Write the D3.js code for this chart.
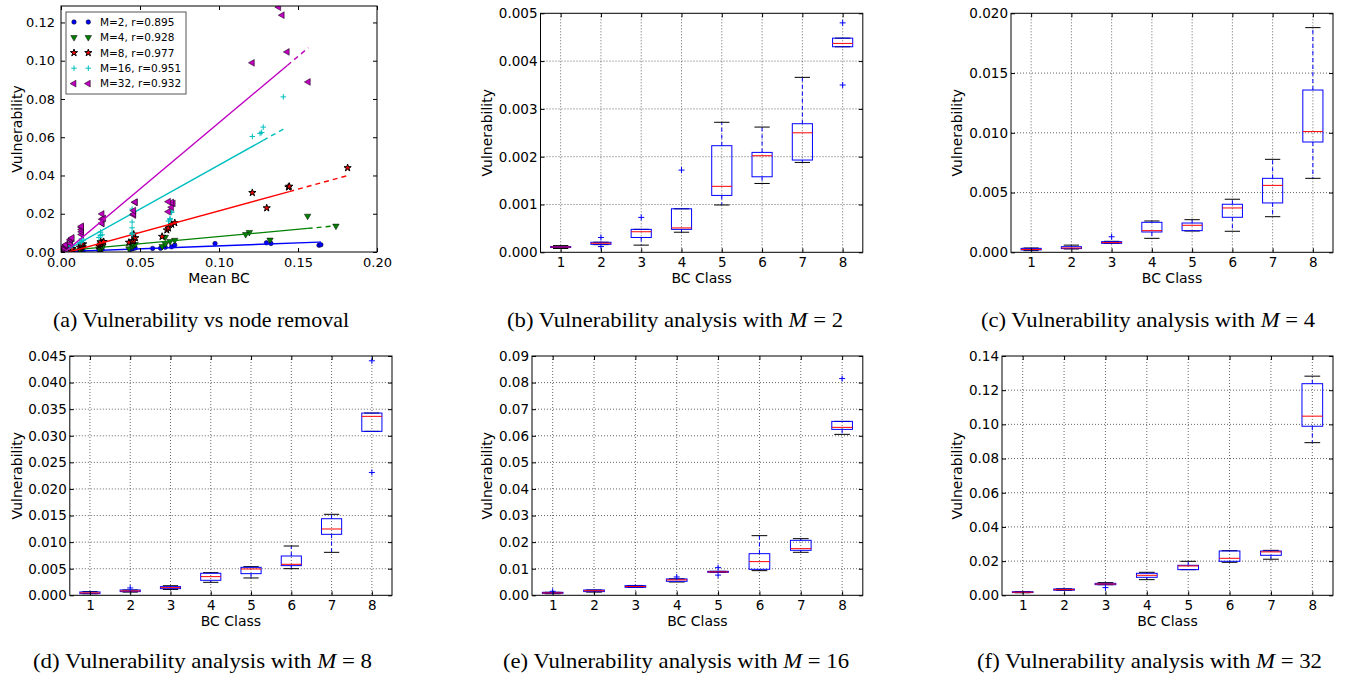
<!DOCTYPE html>
<html><head><meta charset="utf-8">
<script src="https://cdn.jsdelivr.net/npm/d3@7"></script>
<style>body{margin:0;background:#fff}svg{display:block}</style>
</head><body><svg id="c" width="1345" height="674"></svg>
<script>
// ---------- DATA ----------
const classes = [1, 2, 3, 4, 5, 6, 7, 8];
// box stats per class: [whiskerLow, q1, median, q3, whiskerHigh]
const statsM2 = [[0.00008,0.0001,0.00011,0.00012,0.00014],[0.00016,0.000167,0.00019,0.00021,0.00021],[0.00015,0.00031,0.00043,0.00048,0.00048],[0.00042,0.00048,0.00051,0.00091,0.00091],[0.00099,0.00119,0.00138,0.00223,0.00272],[0.00144,0.00158,0.00202,0.00209,0.00262],[0.00188,0.00193,0.0025,0.00269,0.00366],[0.0043,0.0043,0.00437,0.00448,0.00448]];
const outM2 = [[],[0.00031,0.00012],[0.00073],[0.00172],[],[],[],[0.0048,0.0035]];
const statsM4 = [[0.00014,0.0002,0.00024,0.00033,0.00036],[0.00028,0.00031,0.00036,0.00047,0.0006],[0.00075,0.00075,0.00081,0.00089,0.00092],[0.00117,0.0017,0.00181,0.00251,0.00262],[0.00178,0.00181,0.00226,0.00245,0.00273],[0.00176,0.00293,0.00371,0.00402,0.00444],[0.00298,0.00413,0.0056,0.00619,0.00778],[0.00619,0.00923,0.0101,0.01358,0.0188]];
const outM4 = [[],[],[0.0013],[],[],[],[],[]];
const statsM8 = [[0.0003,0.00031,0.00045,0.00063,0.0007],[0.0006,0.00069,0.00082,0.001,0.001],[0.0011,0.00125,0.00144,0.00163,0.0018],[0.00244,0.00282,0.00351,0.00414,0.00426],[0.00326,0.00407,0.00495,0.00526,0.00539],[0.00501,0.00558,0.00583,0.00739,0.00927],[0.00808,0.01147,0.01247,0.0144,0.01523],[0.03083,0.03083,0.03365,0.03427,0.03427]];
const outM8 = [[],[0.00138],[],[],[],[],[],[0.0441,0.0231]];
const statsM16 = [[0.0006,0.00075,0.0009,0.00113,0.00113],[0.0012,0.00138,0.0017,0.002,0.002],[0.003,0.003,0.0033,0.00363,0.0037],[0.005,0.00526,0.0058,0.00614,0.0062],[0.00865,0.00865,0.0088,0.00902,0.00902],[0.00927,0.00977,0.01266,0.01566,0.02243],[0.01617,0.01692,0.01754,0.02068,0.0213],[0.06053,0.0624,0.06316,0.06541,0.0654]];
const outM16 = [[0.0015],[],[],[0.0069],[0.0104,0.0076],[],[],[0.0815]];
const statsM32 = [[0.0015,0.0016,0.0018,0.0021,0.0022],[0.0029,0.003,0.0033,0.0037,0.0038],[0.0062,0.0062,0.0066,0.007,0.0074],[0.00916,0.01053,0.0117,0.01287,0.01345],[0.015,0.01501,0.01716,0.01755,0.01989],[0.0193,0.01989,0.02164,0.02593,0.0261],[0.0211,0.0234,0.0254,0.02593,0.0263],[0.0893,0.0989,0.1048,0.1238,0.1282]];
const outM32 = [[],[],[0.0045],[],[],[],[],[]];

// scatter (a): [mean BC, vulnerability]
const ptsM2 = [[0.001,0.00008],[0.001,0.0001],[0.002,0.00011],[0.001,0.00012],[0.002,0.00014],[0.003,0.00012],[0.003,0.00017],[0.004,0.00019],[0.003,0.00021],[0.004,0.00031],[0.006,0.00015],[0.006,0.00031],[0.007,0.00043],[0.006,0.00048],[0.007,0.00073],[0.012,0.00042],[0.013,0.00048],[0.013,0.00051],[0.014,0.00091],[0.013,0.00172],[0.024,0.00099],[0.025,0.00119],[0.026,0.00138],[0.025,0.00223],[0.026,0.00272],[0.044,0.00144],[0.045,0.00158],[0.046,0.00202],[0.047,0.00209],[0.045,0.00262],[0.058,0.00188],[0.063,0.00193],[0.066,0.0025],[0.070,0.00269],[0.072,0.00366],[0.0975,0.0044],[0.1329,0.0045],[0.1633,0.0035],[0.1645,0.0038],[0.130,0.0048]];
const ptsM4 = [[0.001,0.00014],[0.001,0.0002],[0.002,0.00024],[0.001,0.00033],[0.002,0.00036],[0.003,0.00028],[0.003,0.00031],[0.004,0.00036],[0.003,0.00047],[0.004,0.0006],[0.006,0.00075],[0.006,0.00075],[0.007,0.00081],[0.006,0.00089],[0.007,0.0013],[0.012,0.00117],[0.013,0.0017],[0.013,0.00181],[0.014,0.00251],[0.013,0.00262],[0.024,0.00178],[0.025,0.00181],[0.026,0.00226],[0.025,0.00245],[0.026,0.00273],[0.043,0.00176],[0.045,0.00293],[0.046,0.00371],[0.047,0.00402],[0.045,0.00444],[0.064,0.00298],[0.066,0.00413],[0.069,0.0056],[0.072,0.00619],[0.066,0.00778],[0.1561,0.0188],[0.174,0.0136],[0.1192,0.0103],[0.1169,0.0092],[0.1323,0.0063]];
const ptsM8 = [[0.001,0.0003],[0.001,0.00031],[0.002,0.00045],[0.001,0.00063],[0.002,0.0007],[0.003,0.0006],[0.003,0.00069],[0.004,0.00082],[0.003,0.001],[0.004,0.00138],[0.006,0.0011],[0.006,0.00125],[0.007,0.00144],[0.006,0.00163],[0.007,0.0018],[0.012,0.00244],[0.013,0.00282],[0.013,0.00351],[0.014,0.00414],[0.013,0.00426],[0.024,0.00326],[0.025,0.00407],[0.026,0.00495],[0.025,0.00526],[0.027,0.00539],[0.043,0.00501],[0.045,0.00558],[0.046,0.00583],[0.047,0.00739],[0.046,0.00927],[0.064,0.00808],[0.067,0.01147],[0.068,0.01247],[0.070,0.0144],[0.072,0.01523],[0.1814,0.044],[0.1439,0.0339],[0.1445,0.0343],[0.1211,0.031],[0.1302,0.023]];
const ptsM16 = [[0.001,0.0006],[0.001,0.00075],[0.002,0.0009],[0.001,0.00113],[0.002,0.0015],[0.003,0.0012],[0.003,0.00138],[0.004,0.0017],[0.003,0.002],[0.004,0.002],[0.006,0.003],[0.006,0.003],[0.007,0.0033],[0.006,0.00363],[0.007,0.0037],[0.012,0.005],[0.013,0.00526],[0.013,0.0058],[0.014,0.00614],[0.013,0.0069],[0.024,0.0076],[0.025,0.00865],[0.025,0.0088],[0.026,0.00902],[0.025,0.0104],[0.045,0.00927],[0.045,0.00977],[0.045,0.01266],[0.045,0.01566],[0.045,0.02243],[0.068,0.01617],[0.069,0.01692],[0.069,0.01754],[0.070,0.02068],[0.070,0.0213],[0.1407,0.0811],[0.128,0.0653],[0.127,0.0625],[0.126,0.062],[0.1211,0.0604]];
const ptsM32 = [[0.001,0.0015],[0.001,0.0016],[0.002,0.0018],[0.001,0.0021],[0.002,0.0022],[0.003,0.0029],[0.003,0.003],[0.003,0.0033],[0.003,0.0037],[0.003,0.0038],[0.006,0.0045],[0.006,0.0062],[0.006,0.0066],[0.007,0.007],[0.007,0.0074],[0.013,0.00916],[0.013,0.01053],[0.013,0.0117],[0.013,0.01287],[0.013,0.01345],[0.026,0.015],[0.026,0.01501],[0.026,0.01716],[0.027,0.01755],[0.026,0.01989],[0.046,0.0193],[0.046,0.01989],[0.046,0.02164],[0.047,0.02593],[0.047,0.0261],[0.068,0.0211],[0.070,0.0234],[0.071,0.0254],[0.070,0.02593],[0.068,0.0263],[0.1378,0.128],[0.140,0.1238],[0.1432,0.1046],[0.1211,0.0989],[0.1565,0.0889]];
const seriesLabels = ["M=2, r=0.895", "M=4, r=0.928", "M=8, r=0.977", "M=16, r=0.951", "M=32, r=0.932"];
const fitSlope = [0.031, 0.0758, 0.2263, 0.4607, 0.693];
const fitIntercept = [0.0001, 0.0005, -0.0011, -0.0006, -0.0017];
const xTicksA = [0, 0.05, 0.10, 0.15, 0.20];
const yTicksA = [0, 0.02, 0.04, 0.06, 0.08, 0.10, 0.12];

// ---------- DRAWING ----------
const svg = d3.select("#c");
const FONT = '"DejaVu Sans", sans-serif';
const SERIF = '"Liberation Serif", "Times New Roman", serif';
const seriesColors = ["#0000ff", "#008000", "#ff0000", "#00bfbf", "#bf00bf"];
const seriesPts = [ptsM2, ptsM4, ptsM8, ptsM16, ptsM32];

function styleAxis(g, fs) {
  g.select(".domain").remove();
  g.selectAll(".tick line").attr("stroke", "#000");
  g.selectAll(".tick text").attr("fill", "#000");
  g.attr("font-family", FONT).attr("font-size", fs);
}
function axesFrame(g, x, y, xt, yt, xf, yf, fs, padX, padY) {
  g.append("g").attr("transform", `translate(0,${y.range()[0]})`)
    .call(d3.axisBottom(x).tickValues(xt).tickFormat(xf).tickSize(-4).tickPadding(padX)).call(styleAxis, fs);
  g.append("g").attr("transform", `translate(0,${y.range()[1]})`)
    .call(d3.axisTop(x).tickValues(xt).tickFormat("").tickSize(-4)).call(styleAxis, fs);
  g.append("g").attr("transform", `translate(${x.range()[0]},0)`)
    .call(d3.axisLeft(y).tickValues(yt).tickFormat(yf).tickSize(-4).tickPadding(padY)).call(styleAxis, fs);
  g.append("g").attr("transform", `translate(${x.range()[1]},0)`)
    .call(d3.axisRight(y).tickValues(yt).tickFormat("").tickSize(-4)).call(styleAxis, fs);
  g.append("rect").attr("x", x.range()[0]).attr("y", y.range()[1])
    .attr("width", x.range()[1] - x.range()[0]).attr("height", y.range()[0] - y.range()[1])
    .attr("fill", "none").attr("stroke", "#000").attr("stroke-width", 1);
}
function labels(g, x, y, xl, yl, ylx) {
  const [x0, x1] = x.range(), [y0, y1] = y.range();
  g.append("text").attr("x", (x0 + x1) / 2).attr("y", y0 + 31).attr("text-anchor", "middle")
    .attr("font-family", FONT).attr("font-size", 14).text(xl);
  g.append("text").attr("transform", `translate(${ylx},${(y0 + y1) / 2}) rotate(-90)`)
    .attr("text-anchor", "middle").attr("font-family", FONT).attr("font-size", 14).text(yl);
}
function caption(cx, cy, w, prefix, m) {
  const t = svg.append("text").attr("x", cx).attr("y", cy).attr("text-anchor", "middle")
    .attr("font-family", SERIF).attr("font-size", 21)
    .attr("textLength", w).attr("lengthAdjust", "spacingAndGlyphs");
  t.append("tspan").text(prefix);
  if (m) {
    t.append("tspan").attr("font-style", "italic").text("M");
    t.append("tspan").text(" = " + m);
  }
}
function marker(sel, i) {
  const c = seriesColors[i];
  if (i === 0) sel.attr("d", d3.symbol(d3.symbolCircle, 16)()).attr("fill", c).attr("stroke", "#000").attr("stroke-width", 0.5);
  else if (i === 1) sel.attr("d", d3.symbol(d3.symbolTriangle, 18)()).attr("fill", c).attr("stroke", "#000").attr("stroke-width", 0.5);
  else if (i === 2) sel.attr("d", d3.symbol(d3.symbolStar, 16)()).attr("fill", c).attr("stroke", "#000").attr("stroke-width", 1);
  else if (i === 3) sel.attr("d", "M-2.8,0H2.8M0,-2.8V2.8").attr("fill", "none").attr("stroke", c).attr("stroke-width", 1);
  else sel.attr("d", d3.symbol(d3.symbolTriangle, 20)()).attr("fill", c).attr("stroke", "#000").attr("stroke-width", 0.5);
}
const rotOf = i => (i === 1 ? 180 : i === 4 ? -90 : 0);

// ---- panel (a) ----
(function () {
  const g = svg.append("g");
  const x = d3.scaleLinear().domain([0, 0.2]).range([61, 377]);
  const y = d3.scaleLinear().domain([0, 0.1286]).range([252, 6]);
  svg.append("defs").append("clipPath").attr("id", "clipA").append("rect")
    .attr("x", 61).attr("y", 6).attr("width", 316).attr("height", 246);
  const plot = g.append("g").attr("clip-path", "url(#clipA)");
  seriesPts.forEach((pts, i) => {
    plot.append("g").selectAll("path").data(pts).join("path")
      .each(function () { marker(d3.select(this), i); })
      .attr("transform", d => `translate(${x(d[0])},${y(d[1])}) rotate(${rotOf(i)})`);
    const xs = pts.map(d => d[0]).sort((a, b) => a - b);
    const xMin = xs[0], x2 = xs[xs.length - 2], xMax = xs[xs.length - 1];
    const f = v => fitSlope[i] * v + fitIntercept[i];
    const line = d3.line().x(v => x(v)).y(v => y(f(v)));
    plot.append("path").attr("d", line([xMin, x2])).attr("stroke", seriesColors[i])
      .attr("stroke-width", 1.4).attr("fill", "none");
    plot.append("path").attr("d", line([x2, xMax])).attr("stroke", seriesColors[i])
      .attr("stroke-width", 1.4).attr("fill", "none").attr("stroke-dasharray", "5,4");
  });
  axesFrame(g, x, y, xTicksA, yTicksA, d3.format(".2f"), d3.format(".2f"), 13, 6, 6);
  labels(g, x, y, "Mean BC", "Vulnerability", 22);
  // legend
  const lg = g.append("g");
  lg.append("rect").attr("x", 66).attr("y", 12).attr("width", 120).attr("height", 82)
    .attr("fill", "#fff").attr("stroke", "#555").attr("stroke-width", 1);
  seriesLabels.forEach((lab, i) => {
    const cy = 22 + i * 15.4;
    [74, 88.3].forEach(mx => {
      lg.append("path").each(function () { marker(d3.select(this), i); })
        .attr("transform", `translate(${mx},${cy}) rotate(${rotOf(i)})`);
    });
    lg.append("text").attr("x", 100).attr("y", cy).attr("dy", "0.36em")
      .attr("font-family", FONT).attr("font-size", 10.5).text(lab);
  });
  caption(201, 327, 296, "(a) Vulnerability vs node removal", null);
})();

// ---- box panels ----
function boxPanel(stats, outs, p) {
  const g = svg.append("g");
  const x = d3.scaleLinear().domain([0.5, 8.5]).range([p.left, p.right]);
  const y = d3.scaleLinear().domain([0, p.ymax]).range([p.bottom, p.top]);
  const yt = d3.range(0, Math.round(p.ymax / p.step) + 1).map(k => k * p.step);
  // grid
  const grid = g.append("g").attr("stroke", "#000").attr("stroke-width", 0.8)
    .attr("stroke-dasharray", "1,2").attr("opacity", 0.75);
  grid.selectAll(".gx").data(classes).join("line")
    .attr("x1", d => x(d)).attr("x2", d => x(d)).attr("y1", p.top).attr("y2", p.bottom);
  grid.selectAll(".gy").data(yt.slice(1, -1)).join("line")
    .attr("x1", p.left).attr("x2", p.right).attr("y1", d => y(d)).attr("y2", d => y(d));
  const bw = x(0.5) - x(0.25), cw = (x(0.38) - x(0)) / 2;
  const bx = g.append("g");
  stats.forEach((s, k) => {
    const cx = x(classes[k]);
    const [lo, q1, md, q3, hi] = s;
    bx.append("line").attr("x1", cx).attr("x2", cx).attr("y1", y(q1)).attr("y2", y(lo))
      .attr("stroke", "#0000ff").attr("stroke-dasharray", "4,3");
    bx.append("line").attr("x1", cx).attr("x2", cx).attr("y1", y(q3)).attr("y2", y(hi))
      .attr("stroke", "#0000ff").attr("stroke-dasharray", "4,3");
    [lo, hi].forEach(v => bx.append("line").attr("x1", cx - cw).attr("x2", cx + cw)
      .attr("y1", y(v)).attr("y2", y(v)).attr("stroke", "#000"));
    bx.append("rect").attr("x", cx - bw).attr("width", 2 * bw).attr("y", y(q3))
      .attr("height", Math.max(0.5, y(q1) - y(q3))).attr("fill", "none").attr("stroke", "#0000ff");
    bx.append("line").attr("x1", cx - bw).attr("x2", cx + bw).attr("y1", y(md)).attr("y2", y(md))
      .attr("stroke", "#ff0000");
    outs[k].forEach(v => bx.append("path").attr("d", "M-3,0H3M0,-3V3")
      .attr("transform", `translate(${cx},${y(v)})`).attr("stroke", "#0000ff").attr("fill", "none"));
  });
  axesFrame(g, x, y, classes, yt, d3.format("d"), d3.format(p.fmt), 13.5, 5, 3);
  labels(g, x, y, "BC Class", "Vulnerability", p.ylx);
  caption(p.capX, p.capY, p.capW, p.cap, p.m);
}
boxPanel(statsM2, outM2, {left: 540.5, right: 862.8, top: 13.3, bottom: 252.3, ymax: 0.005, step: 0.001, fmt: ".3f", ylx: 492, cap: "(b) Vulnerability analysis with ", m: "2", capX: 675, capY: 327, capW: 336});
boxPanel(statsM4, outM4, {left: 1011, right: 1333, top: 13.3, bottom: 252.3, ymax: 0.02, step: 0.005, fmt: ".3f", ylx: 962, cap: "(c) Vulnerability analysis with ", m: "4", capX: 1148, capY: 327, capW: 334});
boxPanel(statsM8, outM8, {left: 69.8, right: 392, top: 356, bottom: 595.3, ymax: 0.045, step: 0.005, fmt: ".3f", ylx: 22, cap: "(d) Vulnerability analysis with ", m: "8", capX: 202.5, capY: 668, capW: 339});
boxPanel(statsM16, outM16, {left: 532, right: 862.8, top: 356, bottom: 595.3, ymax: 0.09, step: 0.01, fmt: ".2f", ylx: 492, cap: "(e) Vulnerability analysis with ", m: "16", capX: 676, capY: 668, capW: 346});
boxPanel(statsM32, outM32, {left: 1002, right: 1333, top: 356, bottom: 595.3, ymax: 0.14, step: 0.02, fmt: ".2f", ylx: 962, cap: "(f) Vulnerability analysis with ", m: "32", capX: 1149.5, capY: 668, capW: 345});
</script></body></html>
